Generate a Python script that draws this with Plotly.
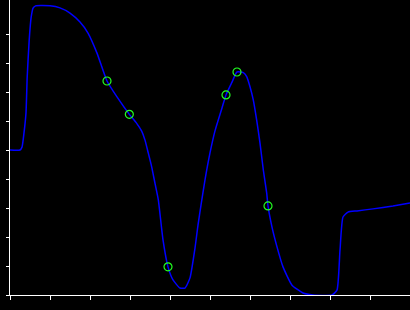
import plotly.graph_objects as go

# Curve samples (x, y)
curve_x = [0, 2.5, 3, 3.5, 4, 4.3, 4.8, 5.3, 5.8, 6.4, 10, 12.5, 15, 17.5, 19.5, 21.75,
           24.25, 26.75, 29.83, 31.67, 32.92, 33.75, 34.58, 35.42, 36.25, 37.08, 38.25,
           39.5, 40.75, 42.5, 43.75, 45, 46.25, 47, 47.75, 48.75, 50, 51.25, 53, 54,
           55.5, 56.75, 58.33, 59.17, 60, 60.83, 61.67, 62.5, 63.33, 64.17, 64.5, 65.5,
           66.75, 68.25, 70.5, 73.25, 75.75, 80.5, 81.75, 82.5, 83.25, 84.5, 86.75,
           90.75, 95.75, 100]
curve_y = [5.0, 5.0, 5.1, 5.59, 6.28, 7.52, 8.79, 9.59, 9.9, 9.97, 9.97, 9.9, 9.72, 9.41,
           9.03, 8.34, 7.38, 6.83, 6.23, 5.92, 5.65, 5.34, 4.89, 4.42, 3.85, 3.28, 1.90,
           0.97, 0.52, 0.24, 0.24, 0.59, 1.62, 2.41, 3.10, 3.97, 4.90, 5.66, 6.45, 6.90,
           7.34, 7.69, 7.67, 7.53, 7.18, 6.72, 6.03, 5.24, 4.31, 3.52, 3.07, 2.34, 1.66,
           0.97, 0.34, 0.07, 0.0, 0.0, 0.17, 1.55, 2.69, 2.86, 2.90, 2.97, 3.07, 3.17]

# Highlighted points
point_x = [24.25, 29.83, 39.5, 54, 56.75, 64.5]
point_y = [7.38, 6.23, 0.97, 6.90, 7.69, 3.07]

y_ticks = [0, 1, 2, 3, 4, 5, 6, 7, 8, 9]
x_ticks = [0, 10, 20, 30, 40, 50, 60, 70, 80, 90, 100]

fig = go.Figure()
fig.add_trace(go.Scatter(
    x=curve_x, y=curve_y, mode="lines",
    line=dict(color="#0000ff", width=1.5, shape="spline", smoothing=0.5),
    showlegend=False, hoverinfo="skip"))
fig.add_trace(go.Scatter(
    x=point_x, y=point_y, mode="markers",
    marker=dict(symbol="circle-open", size=8, color="#22ff22", line=dict(width=1.2)),
    showlegend=False))

fig.update_layout(
    width=410, height=310,
    margin=dict(l=10, r=0, t=0, b=15),
    paper_bgcolor="#000000", plot_bgcolor="#000000",
    xaxis=dict(range=[0, 100], tickvals=x_ticks, showticklabels=False,
               ticks="outside", ticklen=4, tickcolor="#ffffff", tickwidth=1,
               showline=True, linecolor="#ffffff", linewidth=1,
               showgrid=False, zeroline=False),
    yaxis=dict(range=[0, 295 / 29], tickvals=y_ticks, showticklabels=False,
               ticks="outside", ticklen=3, tickcolor="#ffffff", tickwidth=1,
               showline=True, linecolor="#ffffff", linewidth=1,
               showgrid=False, zeroline=False),
)

fig.write_html("out.html")
